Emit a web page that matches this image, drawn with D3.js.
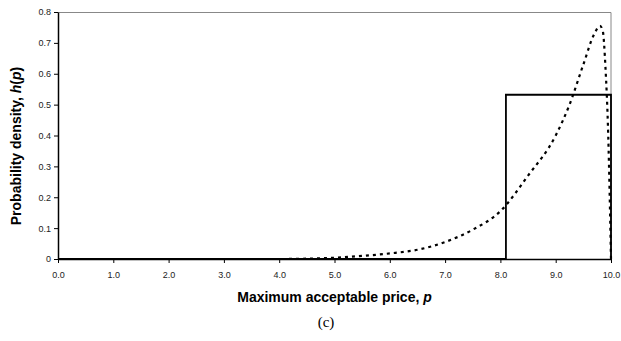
<!DOCTYPE html>
<html>
<head>
<meta charset="utf-8">
<script src="https://cdn.jsdelivr.net/npm/d3@7"></script>
<style>
  body { margin: 0; background: #fff; }
  svg { display: block; }
</style>
</head>
<body>
<div id="chart"></div>
<script>
// 균일분포 (실선) 꼭짓점
var uniformP = [0, 8.1, 8.1, 10, 10];
var uniformH = [0, 0, 0.532, 0.532, 0];

// 점선 밀도곡선
var curveP = [0, 1, 2, 3, 4, 4.5, 5.0, 5.5, 6.0, 6.5, 7.0, 7.5, 8.0, 8.5, 9.0, 9.25, 9.5, 9.7, 9.8, 9.85, 9.9, 9.95, 10.0];
var curveH = [0, 0, 0, 0, 0, 0.001, 0.004, 0.01, 0.018, 0.03, 0.055, 0.095, 0.155, 0.27, 0.40, 0.50, 0.63, 0.73, 0.755, 0.74, 0.62, 0.40, 0];

var xTicks = [0, 1, 2, 3, 4, 5, 6, 7, 8, 9, 10];
var yTicks = [0, 0.1, 0.2, 0.3, 0.4, 0.5, 0.6, 0.7, 0.8];

var W = 621, H = 341,
    margin = {top: 12, right: 10, bottom: 82, left: 58},
    width = W - margin.left - margin.right,
    height = H - margin.top - margin.bottom;

var svg = d3.select("#chart").append("svg")
    .attr("width", W).attr("height", H);

var g = svg.append("g")
    .attr("transform", "translate(" + margin.left + "," + margin.top + ")");

var x = d3.scaleLinear().domain([0, 10]).range([0, width]);
var y = d3.scaleLinear().domain([0, 0.8]).range([height, 0]);

// plot frame (top / right)
g.append("path")
    .attr("d", "M0,0.5H" + width + "V" + height)
    .attr("fill", "none").attr("stroke", "#888").attr("stroke-width", 1);

// axes
var xAxis = g.append("g")
    .attr("transform", "translate(0," + height + ")")
    .call(d3.axisBottom(x).tickValues(xTicks).tickSize(4).tickSizeOuter(0)
        .tickFormat(d3.format(".1f")));
var yAxis = g.append("g")
    .call(d3.axisLeft(y).tickValues(yTicks).tickSize(4).tickSizeOuter(0)
        .tickFormat(function(d){ return d === 0 ? "0" : d3.format(".1f")(d); }));

[xAxis, yAxis].forEach(function(a){
    a.select(".domain").attr("stroke", "#000").attr("stroke-width", 1.5);
    a.selectAll(".tick line").attr("stroke", "#000");
    a.selectAll(".tick text")
        .attr("font-family", "Liberation Sans, Arial, sans-serif")
        .attr("font-size", 9).attr("fill", "#222");
});
xAxis.selectAll(".tick text").attr("dy", "1.3em");

var line = d3.line()
    .x(function(d){ return x(d[0]); })
    .y(function(d){ return y(d[1]); });

// solid
g.append("path")
    .datum(d3.zip(uniformP, uniformH))
    .attr("d", line)
    .attr("fill", "none").attr("stroke", "#000").attr("stroke-width", 1.8);

// dotted
g.append("path")
    .datum(d3.zip(curveP, curveH))
    .attr("d", line.curve(d3.curveMonotoneX))
    .attr("fill", "none").attr("stroke", "#000").attr("stroke-width", 2.2)
    .attr("stroke-dasharray", "3,4");

// axis titles
svg.append("text")
    .attr("x", margin.left + width / 2).attr("y", 302)
    .attr("text-anchor", "middle")
    .attr("font-family", "Liberation Sans, Arial, sans-serif")
    .attr("font-size", 14).attr("font-weight", "bold")
    .html("Maximum acceptable price, <tspan font-style='italic'>p</tspan>");

var yTitle = svg.append("text")
    .attr("font-family", "Liberation Sans, Arial, sans-serif")
    .attr("font-size", 14).attr("font-weight", "bold")
    .html("Probability density, <tspan font-style='italic'>h</tspan>(<tspan font-style='italic'>p</tspan>)");
// 세로 중앙 정렬 (tspan 때문에 직접 계산)
var tw = yTitle.node().getComputedTextLength();
yTitle.attr("transform", "translate(21," + (146 + tw / 2) + ") rotate(-90)");

svg.append("text")
    .attr("x", 326).attr("y", 327)
    .attr("text-anchor", "middle")
    .attr("font-family", "Liberation Serif, Times New Roman, serif")
    .attr("font-size", 15)
    .text("(c)");
</script>
</body>
</html>
